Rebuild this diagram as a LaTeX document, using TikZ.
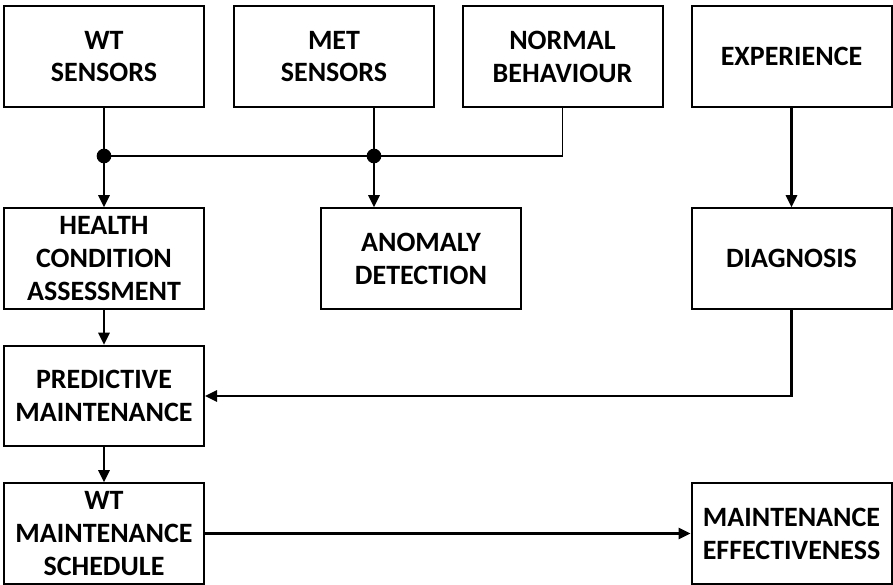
\documentclass[tikz,border=0pt]{standalone}
\usepackage{fontspec}
\setmainfont{Carlito}
\usetikzlibrary{arrows.meta}

\tikzset{
  block/.style={draw, line width=1.5pt, minimum width=150pt, minimum height=75.5pt,
    align=center, inner sep=2pt, font=\bfseries\fontsize{21}{24.7}\selectfont},
  link/.style={line width=1.6pt, -{Triangle[length=9pt, width=8.5pt]}},
  bus/.style={line width=1.3pt}
}

\begin{document}
\begin{tikzpicture}[x=0.75pt, y=-0.75pt]
    \useasboundingbox (0,0) rectangle (893,585);

    % Boxes
    \node[block] (wts) at (104,56.5) {WT\\SENSORS};
    \node[block] (mets) at (334,56.5) {MET\\SENSORS};
    \node[block] (normal) at (562.5,56.5) {NORMAL\\BEHAVIOUR};
    \node[block] (exper) at (791.5,56.5) {EXPERIENCE};
    \node[block] (health) at (104,258.5) {HEALTH\\CONDITION\\ASSESSMENT};
    \node[block] (anomaly) at (421,258.5) {ANOMALY\\DETECTION};
    \node[block] (diag) at (791.5,258.5) {DIAGNOSIS};
    \node[block] (predict) at (104,396) {PREDICTIVE\\MAINTENANCE};
    \node[block] (sched) at (104,533.5) {WT\\MAINTENANCE\\SCHEDULE};
    \node[block] (effect) at (791.5,533.5) {MAINTENANCE\\EFFECTIVENESS};

    % Junctions
    \coordinate (j1) at (104,156);
    \coordinate (j2) at (374,156);

    % Sensor bus
    \draw[bus] (normal.south) -- (normal.south |- j2) -- (j1);
    \draw[link] (wts.south) -- (j1) -- (health.north);
    \draw[link] (j2 |- mets.south) -- (j2) -- (j2 |- anomaly.north);
    \fill (j1) circle (5.5pt) (j2) circle (5.5pt);

    % Remaining flow
    \draw[link] (exper.south) -- (diag.north);
    \draw[link] (diag.south) |- (predict.east);
    \draw[link] (health.south) -- (predict.north);
    \draw[link] (predict.south) -- (sched.north);
    \draw[link] (sched.east) -- (effect.west);
\end{tikzpicture}
\end{document}
